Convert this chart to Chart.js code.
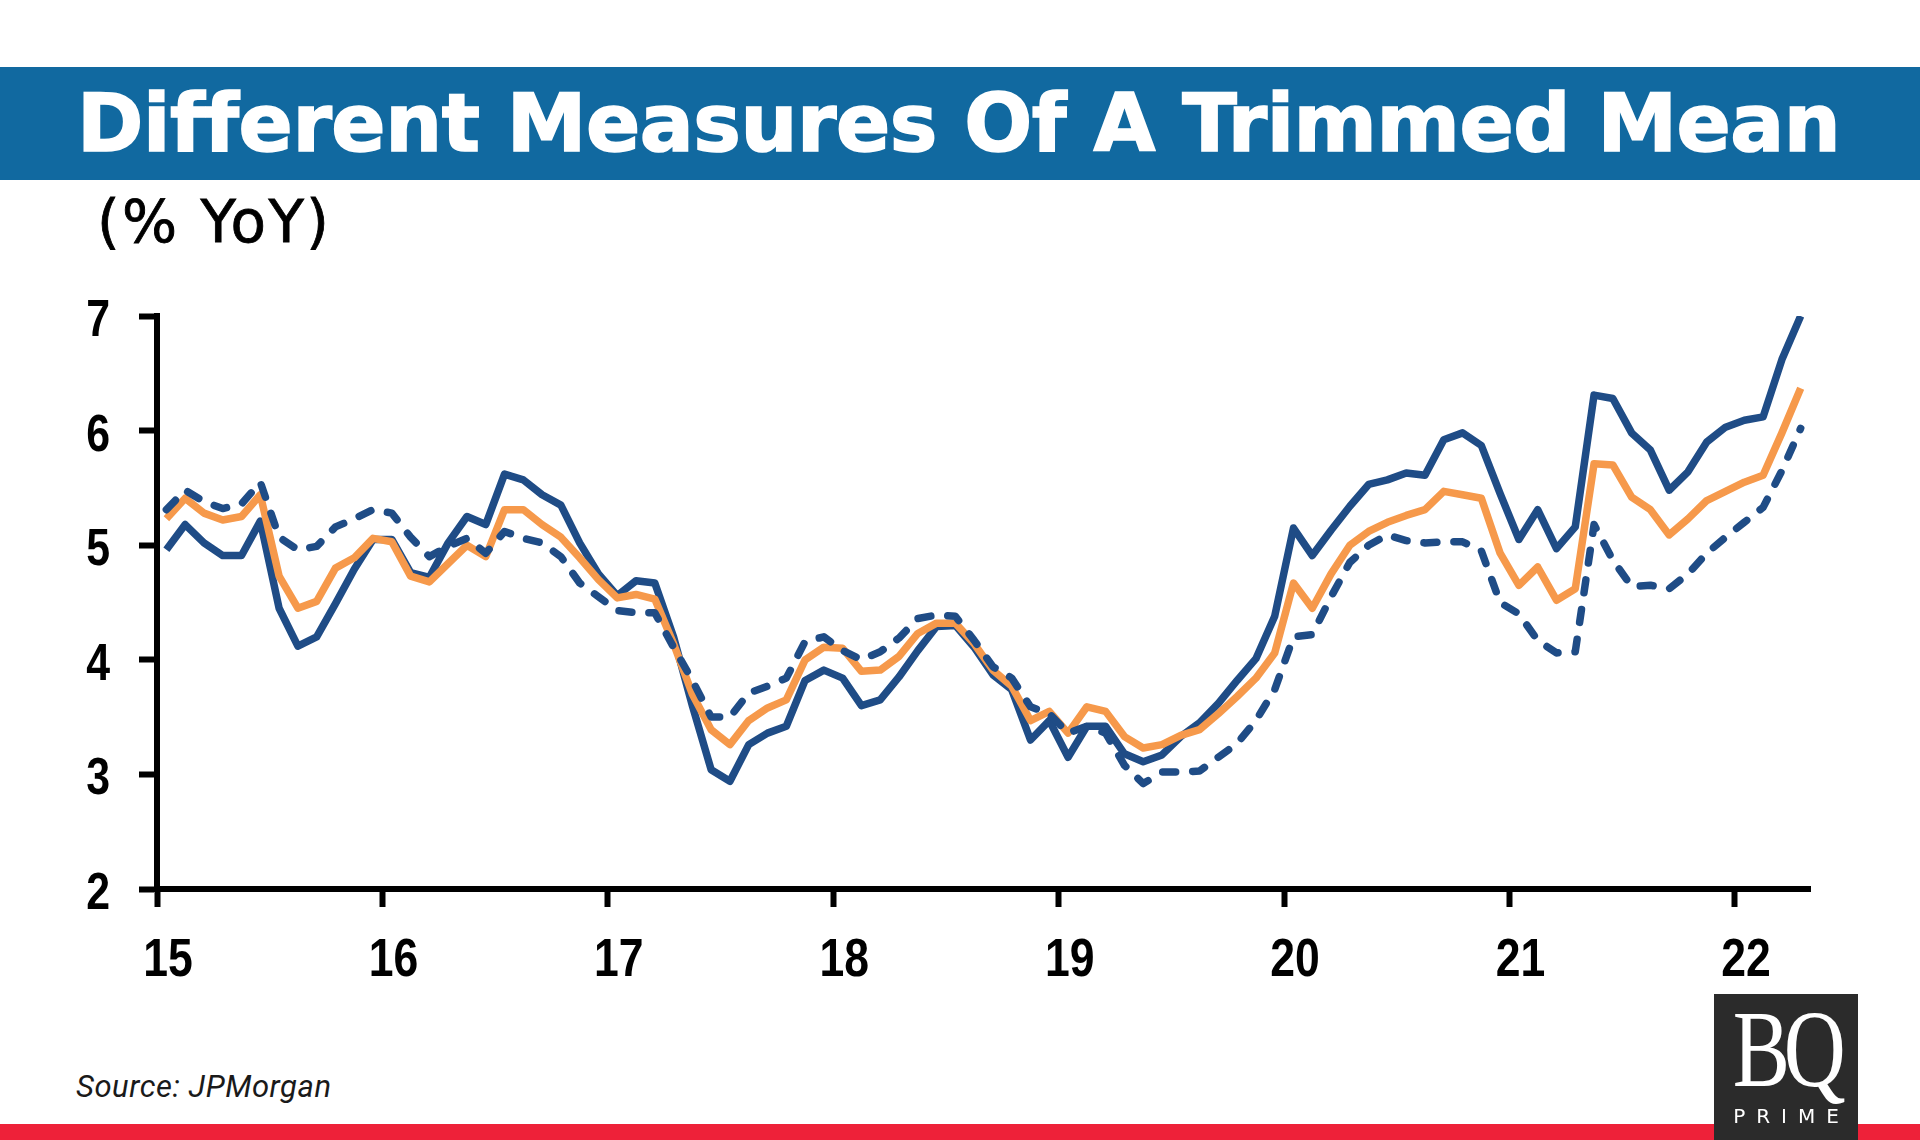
<!DOCTYPE html>
<html><head><meta charset="utf-8">
<script src="https://cdn.jsdelivr.net/npm/chart.js@4.4.0/dist/chart.umd.min.js"></script>
<style>
html,body{margin:0;padding:0;background:#fff;}
#page{position:relative;width:1920px;height:1140px;overflow:hidden;background:#fff;}
#band{position:absolute;left:0;top:67px;width:1920px;height:113px;background:#1169a0;}
#title{position:absolute;left:77px;top:67px;height:113px;line-height:113px;color:#fff;font-family:'DejaVu Sans';font-weight:bold;font-size:80px;white-space:nowrap;-webkit-text-stroke:1.6px #fff;}
#unit{position:absolute;left:97px;top:184px;font-family:'DejaVu Sans';font-size:58px;line-height:76px;color:#000;white-space:nowrap;-webkit-text-stroke:0.8px #000;}
#chartWrap{position:absolute;left:0;top:250px;width:1920px;height:760px;}
#source{position:absolute;left:76px;top:1068px;font-family:Roboto;font-style:italic;font-size:31px;line-height:38px;color:#1a1a1a;white-space:nowrap;}
#red{position:absolute;left:0;top:1124px;width:1920px;height:16px;background:#ee2139;}
#logo{position:absolute;left:1714px;top:994px;width:144px;height:146px;background:#2b2b2b;}
#bq{position:absolute;left:0;top:0px;width:144px;text-align:center;color:#fff;font-family:'Liberation Serif';font-size:110px;line-height:110px;letter-spacing:-8px;transform:scaleX(0.78);}
#prime{position:absolute;left:0;top:110px;width:144px;text-align:center;color:#fff;font-family:'DejaVu Sans';font-size:20px;line-height:24px;letter-spacing:11px;padding-left:11px;box-sizing:border-box;}
</style>
</head>
<body>
<div id="page">
  <div id="band"></div>
  <div id="title">Different Measures Of A Trimmed Mean</div>
  <div id="unit">(% YoY)</div>
  <div id="chartWrap"><canvas id="c" width="1920" height="760" style="width:1920px;height:760px"></canvas></div>
  <div id="source">Source: JPMorgan</div>
  <div id="red"></div>
  <div id="logo"><div id="bq">BQ</div><div id="prime">PRIME</div></div>
</div>
<script>
// Monthly observations, Jan 2015 .. Apr 2022
const years = [2015, 2016, 2017, 2018, 2019, 2020, 2021, 2022];
const monthsPerYear = [12, 12, 12, 12, 12, 12, 12, 4];

// Solid dark blue measure
const solidBlue = [
  4.96, 5.18, 5.02, 4.91, 4.91, 5.21, 4.45, 4.12, 4.20, 4.49, 4.79, 5.05,
  5.05, 4.76, 4.72, 5.02, 5.25, 5.18, 5.62, 5.57, 5.44, 5.35, 5.02, 4.75,
  4.56, 4.69, 4.67, 4.20, 3.60, 3.04, 2.94, 3.26, 3.36, 3.42, 3.82, 3.91,
  3.84, 3.60, 3.65, 3.85, 4.08, 4.29, 4.30, 4.11, 3.87, 3.74, 3.30, 3.47,
  3.15, 3.42, 3.42, 3.18, 3.11, 3.17, 3.33, 3.45, 3.62, 3.82, 4.01, 4.38,
  5.15, 4.91, 5.13, 5.34, 5.53, 5.57, 5.63, 5.61, 5.92, 5.98, 5.87, 5.45,
  5.05, 5.31, 4.97, 5.16, 6.31, 6.28, 5.98, 5.83, 5.48, 5.64, 5.90, 6.03,
  6.09, 6.12, 6.62, 7.00
];
// Orange measure
const orangeLine = [
  5.23, 5.41, 5.28, 5.22, 5.25, 5.44, 4.73, 4.45, 4.51, 4.80, 4.89, 5.06,
  5.03, 4.73, 4.68, 4.84, 5.00, 4.90, 5.31, 5.31, 5.18, 5.07, 4.89, 4.70,
  4.54, 4.57, 4.53, 4.14, 3.70, 3.39, 3.26, 3.47, 3.58, 3.65, 4.00, 4.11,
  4.10, 3.90, 3.91, 4.03, 4.23, 4.32, 4.32, 4.14, 3.91, 3.77, 3.47, 3.55,
  3.36, 3.59, 3.55, 3.33, 3.23, 3.26, 3.34, 3.39, 3.53, 3.68, 3.84, 4.06,
  4.67, 4.45, 4.75, 5.00, 5.12, 5.20, 5.26, 5.31, 5.47, 5.44, 5.41, 4.93,
  4.65, 4.81, 4.52, 4.62, 5.71, 5.70, 5.42, 5.31, 5.09, 5.23, 5.39, 5.47,
  5.55, 5.61, 5.98, 6.37
];
// Dashed dark blue measure
const dashedBlue = [
  5.31, 5.48, 5.38, 5.32, 5.36, 5.55, 5.07, 4.96, 4.99, 5.16, 5.23, 5.31,
  5.28, 5.07, 4.90, 4.99, 5.06, 4.93, 5.12, 5.06, 5.02, 4.90, 4.67, 4.55,
  4.43, 4.41, 4.41, 4.11, 3.82, 3.50, 3.50, 3.71, 3.77, 3.84, 4.16, 4.20,
  4.08, 4.00, 4.07, 4.19, 4.36, 4.39, 4.38, 4.17, 3.94, 3.84, 3.59, 3.53,
  3.36, 3.42, 3.36, 3.08, 2.92, 3.02, 3.02, 3.03, 3.15, 3.27, 3.47, 3.74,
  4.20, 4.22, 4.55, 4.85, 5.00, 5.09, 5.04, 5.02, 5.03, 5.03, 4.95, 4.50,
  4.40, 4.17, 4.06, 4.07, 5.18, 4.87, 4.64, 4.65, 4.62, 4.75, 4.93, 5.07,
  5.20, 5.33, 5.65, 6.02
];

const xTickLabels = ['15', '16', '17', '18', '19', '20', '21', '22'];
const yTickLabels = ['2', '3', '4', '5', '6', '7'];

// mid-month positions on a "two-digit year" axis
const monthPos = [];
years.forEach((y, i) => {
  for (let m = 0; m < monthsPerYear[i]; m++) monthPos.push((y - 2000) + (m + 0.5) / 12);
});
const toXY = arr => arr.map((v, i) => ({x: monthPos[i], y: v}));

const NAVY = '#1f4c86';
const ORANGE = '#f6994b';

// Condensed bold tick labels (Arial-Narrow look), placed through the chart's own scales
const condensedTicks = {
  id: 'condensedTicks',
  afterDraw(chart) {
    const ctx = chart.ctx;
    const xs = chart.scales.x, ys = chart.scales.y;
    ctx.save();
    ctx.fillStyle = '#000';
    ctx.font = "bold 53px 'Liberation Sans', Arial, sans-serif";
    ctx.textBaseline = 'alphabetic';
    ctx.textAlign = 'center';
    xTickLabels.forEach(t => {
      const px = xs.getPixelForValue(Number(t)) + 11;
      ctx.save(); ctx.translate(px, xs.top + 87); ctx.scale(0.84, 1); ctx.fillText(t, 0, 0); ctx.restore();
    });
    ctx.font = "bold 51px 'Liberation Sans', Arial, sans-serif";
    ctx.textAlign = 'right';
    yTickLabels.forEach(t => {
      const py = ys.getPixelForValue(Number(t)) + 20;
      ctx.save(); ctx.translate(110, py); ctx.scale(0.84, 1); ctx.fillText(t, 0, 0); ctx.restore();
    });
    ctx.restore();
  }
};

function fitWidth(el, target) {
  const w = el.getBoundingClientRect().width;
  const n = el.textContent.length;
  el.style.letterSpacing = ((target - w) / (n - 1)) + 'px';
}

function draw() {
  fitWidth(document.getElementById('title'), 1759);
  fitWidth(document.getElementById('unit'), 232);
  fitWidth(document.getElementById('source'), 255);

  new Chart(document.getElementById('c').getContext('2d'), {
    type: 'line',
    plugins: [condensedTicks],
    data: {
      datasets: [
        {data: toXY(dashedBlue), borderColor: NAVY, borderWidth: 7.5, borderDash: [13, 17], borderCapStyle: 'round'},
        {data: toXY(orangeLine), borderColor: ORANGE, borderWidth: 7.5},
        {data: toXY(solidBlue), borderColor: NAVY, borderWidth: 7.5}
      ]
    },
    options: {
      responsive: false,
      animation: false,
      devicePixelRatio: 1,
      layout: {padding: {top: 66, right: 110, left: 0, bottom: 0}},
      plugins: {legend: {display: false}, tooltip: {enabled: false}},
      elements: {point: {radius: 0}, line: {tension: 0, borderJoinStyle: 'round', fill: false}},
      scales: {
        x: {
          type: 'linear', min: 15, max: 22.333,
          afterBuildTicks: s => { s.ticks = xTickLabels.map(t => ({value: Number(t)})); },
          afterFit: s => { s.height = 121; },
          border: {display: true, color: '#000', width: 6},
          grid: {drawOnChartArea: false, drawTicks: true, tickLength: 18, tickWidth: 6, tickColor: '#000', color: '#000'},
          ticks: {display: false}
        },
        y: {
          type: 'linear', min: 2, max: 7,
          afterBuildTicks: s => { s.ticks = yTickLabels.map(t => ({value: Number(t)})); },
          afterFit: s => { s.width = 157; },
          border: {display: true, color: '#000', width: 6},
          grid: {drawOnChartArea: false, drawTicks: true, tickLength: 18, tickWidth: 6, tickColor: '#000', color: '#000'},
          ticks: {display: false}
        }
      }
    }
  });
}
if (document.fonts && document.fonts.ready) document.fonts.ready.then(draw); else draw();
</script>
</body></html>
